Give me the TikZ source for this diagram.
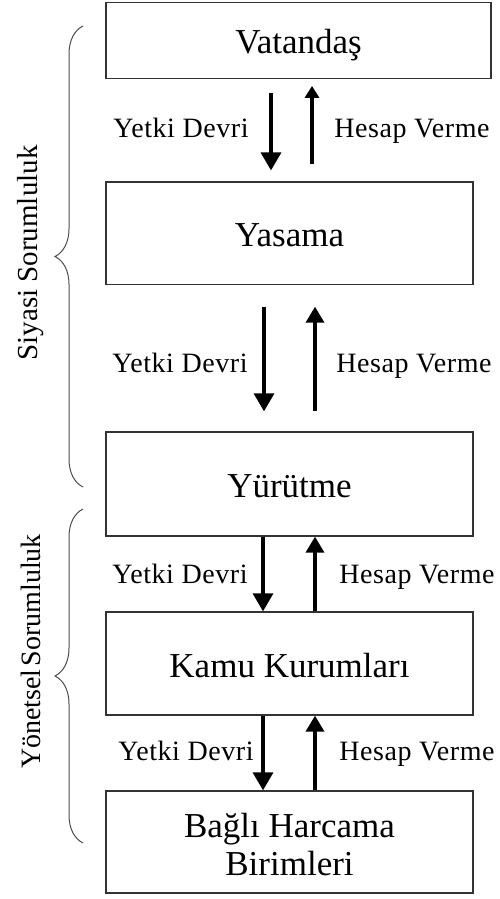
\documentclass[tikz,border=0pt]{standalone}
\usepackage{fontspec}
\setmainfont{Liberation Serif}
\newfontfamily\spacedserif[LetterSpace=2]{Liberation Serif}
\usetikzlibrary{arrows.meta,decorations.pathreplacing}
\begin{document}
\begin{tikzpicture}[x=1pt,y=-1pt,
  box/.style={draw=black!80, line width=1.3pt, rectangle, inner sep=0pt,
    font=\fontsize{35}{38}\selectfont, text height=27pt, text depth=0pt},
  lbl/.style={font=\spacedserif\fontsize{28}{32}\selectfont, anchor=base, inner sep=0pt},
  side/.style={font=\fontsize{29}{32}\selectfont, anchor=base, rotate=90, inner sep=0pt},
  downarr/.style={line width=3.4pt, -{Triangle[width=20pt,length=18pt]}},
  uparr/.style={line width=3.6pt, -{Triangle[width=18pt,length=16pt]}},
  smallup/.style={line width=3.6pt, -{Triangle[width=14pt,length=12pt]}},
  bracket/.style={draw=black!70, line width=1pt, decorate,
    decoration={brace, amplitude=28pt}}
]
\useasboundingbox (0,0) rectangle (499,899);

% the chain of actors
\node[box, minimum width=385pt, minimum height=76pt, line width=1.8pt] (vat) at (298.5,40.5) {Vatandaş};
\node[box, minimum width=367pt, minimum height=102.5pt] (yas) at (289.5,233.3) {Yasama};
\node[box, minimum width=367pt, minimum height=104pt] (yur) at (289.5,484) {Yürütme};
\node[box, minimum width=367pt, minimum height=103pt] (kamu) at (289.5,663.5) {Kamu Kurumları};
\node[box, minimum width=367pt, minimum height=102pt, align=center,
      text height={}, text depth={}] (bagli) at (289.5,842)
      {\rule{0pt}{30pt}Bağlı Harcama\\Birimleri};

% columns of the arrows
\coordinate (xa) at (271,0);
\coordinate (xb) at (312,0);
\coordinate (xc) at (264,0);
\coordinate (xd) at (315,0);
\coordinate (xe) at (263,0);

% delegation downwards, accountability upwards
\draw[downarr, shorten <=13.5pt, shorten >=11pt] (vat.south -| xa) -- (yas.north -| xa);
\draw[smallup, shorten <=17pt, shorten >=6.5pt] (yas.north -| xb) -- (vat.south -| xb);
\draw[downarr, shorten <=21.5pt, shorten >=20pt] (yas.south -| xc) -- (yur.north -| xc);
\draw[uparr, shorten <=20pt, shorten >=21.5pt] (yur.north -| xd) -- (yas.south -| xd);
\draw[downarr] (yur.south -| xe) -- (kamu.north -| xe);
\draw[uparr] (kamu.north -| xd) -- (yur.south -| xd);
\draw[downarr] (kamu.south -| xe) -- (bagli.north -| xe);
\draw[uparr] (bagli.north -| xd) -- (kamu.south -| xd);

% arrow labels
\node[lbl] (yd1) at (181,137) {Yetki Devri};
\node[lbl] (hv1) at (412,137) {Hesap Verme};
\node[lbl] (yd2) at (180,372) {Yetki Devri};
\node[lbl] (hv2) at (414,372) {Hesap Verme};
\node[lbl] (yd3) at (180,583) {Yetki Devri};
\node[lbl] (hv3) at (417,583) {Hesap Verme};
\node[lbl] (yd4) at (186,760) {Yetki Devri};
\node[lbl] (hv4) at (417,760) {Hesap Verme};

% responsibility groups
\draw[bracket] (83,487) -- (83,26);
\draw[bracket] (83,843) -- (83,509);
\node[side] (siy) at (37.5,253) {Siyasi Sorumluluk};
\node[side, font=\fontsize{28}{32}\selectfont] (yon) at (40,651.5) {Yönetsel\hspace{3pt}Sorumluluk};
\end{tikzpicture}
\end{document}
